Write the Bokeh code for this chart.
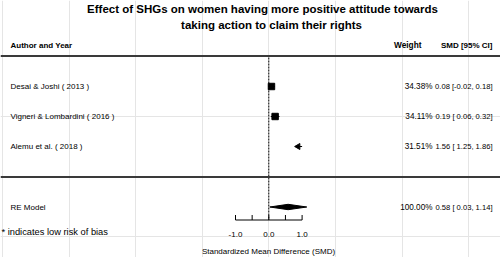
import math
from bokeh.plotting import figure
from bokeh.models import Range1d, Label, Span
from bokeh.embed import file_html
from bokeh.resources import INLINE

# ---------------- data ----------------
title_lines = ["Effect of SHGs on women having more positive attitude towards",
               "taking action to claim their rights"]
col_headers = ["Author and Year", "Weight", "SMD [95% CI]"]
studies = ["Desai & Joshi ( 2013 )", "Vigneri & Lombardini ( 2016 )", "Alemu et al. ( 2018 )"]
weights = [34.38, 34.11, 31.51]
smd = [0.08, 0.19, 1.56]
ci_lo = [-0.02, 0.06, 1.25]
ci_hi = [0.18, 0.32, 1.86]
re_label = "RE Model"
re_weight = 100.00
re_est, re_lo, re_hi = 0.58, 0.03, 1.14
axis_ticks = [-1.0, 0.0, 1.0]
axis_minor = [-0.5, 0.5]
x_label = "Standardized Mean Difference (SMD)"
footnote = "* indicates low risk of bias"

# ---------------- layout helpers ----------------
W, H = 500, 257
X0_REF, UNIT_REF = 268.3, 33.3
ROW1_REF, ROW_STEP_REF = 86.0, 30.0
FONT = "Liberation Sans"


def xd(rx):
    return (rx - X0_REF) / UNIT_REF


def yd(ry):
    return 1 + (ry - ROW1_REF) / ROW_STEP_REF


p = figure(width=W, height=H,
           x_range=Range1d(xd(0), xd(W)),
           y_range=Range1d(yd(H), yd(0)),
           x_axis_location=None, y_axis_location=None,
           min_border_left=0, min_border_right=0, min_border_top=0,
           min_border_bottom=0,
           output_backend="svg", toolbar_location=None)
p.outline_line_color = None
p.background_fill_color = "white"
p.border_fill_color = "white"


def label(text, rx, ry, align="left", size="8px", style="normal"):
    p.add_layout(Label(x=xd(rx), y=yd(ry), text=text, text_font=FONT,
                       text_font_size=size, text_font_style=style,
                       text_align=align, text_baseline="middle",
                       text_color="black"))


# title
label(title_lines[0], 262, 8.5, "center", "11.5px", "bold")
label(title_lines[1], 271, 24.5, "center", "11.5px", "bold")

# headers
label(col_headers[0], 10, 44.5, "left", "8px", "bold")
label(col_headers[1], 421, 44.5, "right", "8.3px", "bold")
label(col_headers[2], 492, 44.5, "right", "8px", "bold")

# rules
for ry in (55.5, 176.5):
    p.add_layout(Span(location=yd(ry), dimension="width",
                      line_color="#3a3a3a", line_width=2))

# zero line
AXIS_RY = 219.5
p.segment(x0=[0], y0=[yd(57)], x1=[0], y1=[yd(AXIS_RY)],
          line_color="black", line_width=1, line_dash="2 1")

# study rows
rows = [i + 1 for i in range(len(studies))]
amax = axis_ticks[-1]
for i, name in enumerate(studies):
    ry = ROW1_REF + i * ROW_STEP_REF
    label(name, 10, ry)
    label(f"{weights[i]:.2f}%", 432, ry, "right", "8.2px")
    label(f"{smd[i]:.2f} [{ci_lo[i]:5.2f}, {ci_hi[i]:.2f}]", 492, ry, "right", "7.6px")

inside = [i for i in range(len(studies)) if ci_lo[i] <= amax]
outside = [i for i in range(len(studies)) if ci_lo[i] > amax]
p.segment(x0=[ci_lo[i] for i in inside], y0=[rows[i] for i in inside],
          x1=[min(ci_hi[i], amax) for i in inside], y1=[rows[i] for i in inside],
          line_color="black", line_width=1)
p.scatter(x=[smd[i] for i in inside], y=[rows[i] for i in inside],
          size=[11 * math.sqrt(weights[i] / 100) for i in inside],
          marker="square", fill_color="black", line_color="black")
# arrows for intervals beyond the axis limit
p.segment(x0=[amax - 0.17 for i in outside], y0=[rows[i] for i in outside],
          x1=[amax for i in outside], y1=[rows[i] for i in outside],
          line_color="black", line_width=1)
p.scatter(x=[amax - 0.12 for i in outside], y=[rows[i] for i in outside],
          size=6, marker="triangle", angle=math.pi / 2,
          fill_color="black", line_color="black")

# RE model
RE_RY = 206.5
re_row = yd(RE_RY)
label(re_label, 10, RE_RY)
label(f"{re_weight:.2f}%", 432, RE_RY, "right", "8.2px")
label(f"{re_est:.2f} [{re_lo:5.2f}, {re_hi:.2f}]", 492, RE_RY, "right", "7.6px")
h = 0.09
p.patch(x=[re_lo, re_est, re_hi, re_est], y=[re_row, re_row - h, re_row, re_row + h],
        fill_color="black", line_color="black", line_width=1)

# axis (drawn through the data scales)
tick_len = 5 / ROW_STEP_REF
all_ticks = sorted(axis_ticks + axis_minor)
p.segment(x0=[axis_ticks[0]], y0=[yd(AXIS_RY)], x1=[axis_ticks[-1]], y1=[yd(AXIS_RY)],
          line_color="black", line_width=1)
p.segment(x0=all_ticks, y0=[yd(AXIS_RY)] * len(all_ticks),
          x1=all_ticks, y1=[yd(AXIS_RY) - tick_len] * len(all_ticks),
          line_color="black", line_width=1)
for t in axis_ticks:
    p.add_layout(Label(x=t, y=yd(233.5), text=f"{t:.1f}", text_font=FONT,
                       text_font_size="8px", text_align="center",
                       text_baseline="middle", text_color="black"))

label(x_label, 268, 251, "center", "8px")
label(footnote, 1, 231.5, "left", "9.3px")

open("out.html", "w").write(file_html(p, INLINE))
